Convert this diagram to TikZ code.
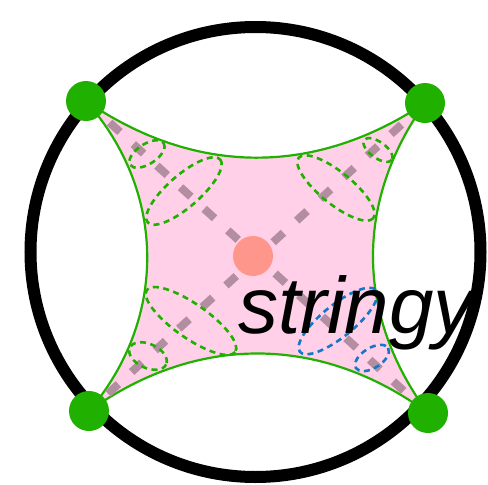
\documentclass[tikz,border=0pt]{standalone}
\usepackage{fontspec}
\newfontfamily\labelfont{Liberation Sans}
\usepackage{tikz}

\definecolor{dotgreen}{RGB}{32,176,0}
\definecolor{sheetpink}{RGB}{255,208,232}
\definecolor{chordgray}{RGB}{178,142,160}
\definecolor{bulkred}{RGB}{255,150,140}
\definecolor{loopblue}{RGB}{20,120,200}

\begin{document}
\begin{tikzpicture}[x=1pt, y=-1pt,
    chord/.style={line width=8pt, draw=chordgray, dash pattern=on 14pt off 18pt},
    gloop/.style={line width=2.6pt, draw=dotgreen, dash pattern=on 6pt off 4.5pt},
    bloop/.style={line width=2.6pt, draw=loopblue, dash pattern=on 6pt off 4.5pt}]
    \useasboundingbox (0,0) rectangle (488,485);

    % Boundary
    \draw[line width=12pt] (255.5,252) circle (225);

    % Insertion points
    \coordinate (tl) at (86,101);
    \coordinate (tr) at (425,103);
    \coordinate (br) at (428,413);
    \coordinate (bl) at (89,411);
    \coordinate (mid) at (253,256);

    % The sheet
    \filldraw[fill=sheetpink, draw=dotgreen, line width=2.2pt, line join=round]
        (tl) to[bend right=34] (tr) to[bend right=36] (br)
        to[bend right=36] (bl) to[bend right=41] (tl) -- cycle;

    % Diagonals
    \draw[chord] (tl) -- (br);
    \draw[chord] (tr) -- (bl);

    % Loops at the corners
    \draw[gloop, rotate around={41:(184,191)}] (184,191) ellipse (48 and 16);
    \draw[gloop, rotate around={33:(147,154)}] (147,154) ellipse (20 and 10);
    \draw[gloop, rotate around={-39:(336,188)}] (336,188) ellipse (48 and 16);
    \draw[gloop, rotate around={-36:(378,150)}] (378,150) ellipse (17 and 8);
    \draw[gloop, rotate around={-35:(191,321)}] (191,321) ellipse (54 and 17);
    \draw[gloop, rotate around={-25:(148,356)}] (148,356) ellipse (20 and 12);
    \draw[bloop, rotate around={39:(338,321)}] (338,321) ellipse (49 and 16);
    \draw[bloop, rotate around={32:(372,358)}] (372,358) ellipse (19 and 10);

    \fill[bulkred] (mid) circle (20);

    \node[anchor=base west, inner sep=0pt, font=\labelfont\itshape\fontsize{80}{82}\selectfont] (label) at (238,333) {stringy};

    \foreach \p in {tl,tr,br,bl}
        \fill[dotgreen] (\p) circle (20);
\end{tikzpicture}
\end{document}
